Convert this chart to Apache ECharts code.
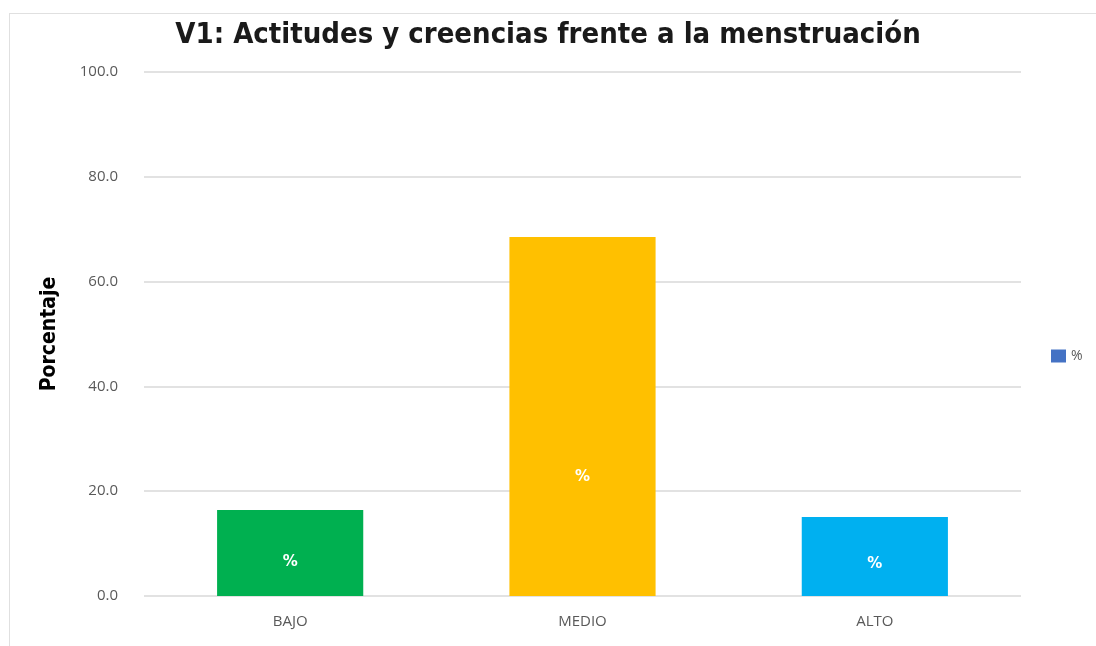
<!doctype html>
<html>
	<head>
		<meta charset="utf-8">
		<title>V1</title>
		<script src="https://cdn.jsdelivr.net/npm/echarts@6/dist/echarts.min.js"></script>
		<style>
			html, body {
				margin: 0;
				padding: 0;
				background: #fff;
			}
			.frame {
				position: absolute;
				left: 9px;
				top: 13px;
				width: 1096px;
				height: 646px;
				border-left: 1px solid #e0e0e0;
				border-top: 1px solid #e0e0e0;
			}
			#chart {
				position: absolute;
				left: 0;
				top: 0;
				width: 1096px;
				height: 646px;
			}
		</style>
	</head>
	<body>
		<div class="frame"></div>
		<div id="chart"></div>
		<script type="text/javascript">
			// categorias
			var categories = ['BAJO', 'MEDIO', 'ALTO'];
			// porcentajes
			var values = [16.4, 68.5, 15.1];
			// colores de cada barra
			var barColors = ['#00B050', '#FFC000', '#00B0F0'];
			// posicion vertical de la etiqueta dentro de la barra
			var labelPos = ['61%', '67%', '60%'];

			var chart = echarts.init(document.getElementById('chart'));

			var data = [];
			for (var i = 0; i < values.length; i++) {
				data.push({
					value: values[i],
					itemStyle: { color: barColors[i] },
					label: { position: ['50%', labelPos[i]] }
				});
			}

			chart.setOption({
				animation: false,
				title: {
					text: 'V1: Actitudes y creencias frente a la menstruación',
					left: 'center',
					top: 16,
					textStyle: {
						fontFamily: 'DejaVu Sans Condensed, Open Sans, sans-serif',
						fontWeight: 'bold',
						fontSize: 29,
						color: '#1a1a1a'
					}
				},
				legend: {
					data: ['%'],
					orient: 'vertical',
					left: 1046,
					top: 344,
					icon: 'rect',
					itemWidth: 15,
					itemHeight: 13,
					itemGap: 4,
					textStyle: {
						fontFamily: 'Open Sans',
						fontSize: 14,
						color: '#595959'
					}
				},
				grid: {
					left: 144,
					right: 75,
					top: 72,
					bottom: 50,
					containLabel: false
				},
				xAxis: {
					type: 'category',
					data: categories,
					axisLine: { show: false },
					axisTick: { show: false },
					axisLabel: {
						margin: 18,
						fontFamily: 'Open Sans',
						fontSize: 15,
						color: '#595959'
					}
				},
				yAxis: {
					type: 'value',
					min: 0,
					max: 100,
					interval: 20,
					name: 'Porcentaje',
					nameLocation: 'middle',
					nameGap: 84,
					nameTextStyle: {
						fontFamily: 'DejaVu Sans Condensed, Open Sans, sans-serif',
						fontWeight: 'bold',
						fontSize: 21,
						color: '#000'
					},
					axisLabel: {
						margin: 26,
						fontFamily: 'Open Sans',
						fontSize: 15,
						color: '#595959',
						formatter: function(v) {
							return v.toFixed(1);
						}
					},
					splitLine: {
						lineStyle: { color: '#d9d9d9', width: 1.5 }
					}
				},
				series: [{
					name: '%',
					type: 'bar',
					barWidth: '50%',
					itemStyle: { color: '#4472C4' },
					label: {
						show: true,
						formatter: '%',
						align: 'center',
						verticalAlign: 'middle',
						color: '#fff',
						fontWeight: 'bold',
						fontSize: 15,
						fontFamily: 'DejaVu Sans'
					},
					data: data
				}]
			});
		</script>
	</body>
</html>
